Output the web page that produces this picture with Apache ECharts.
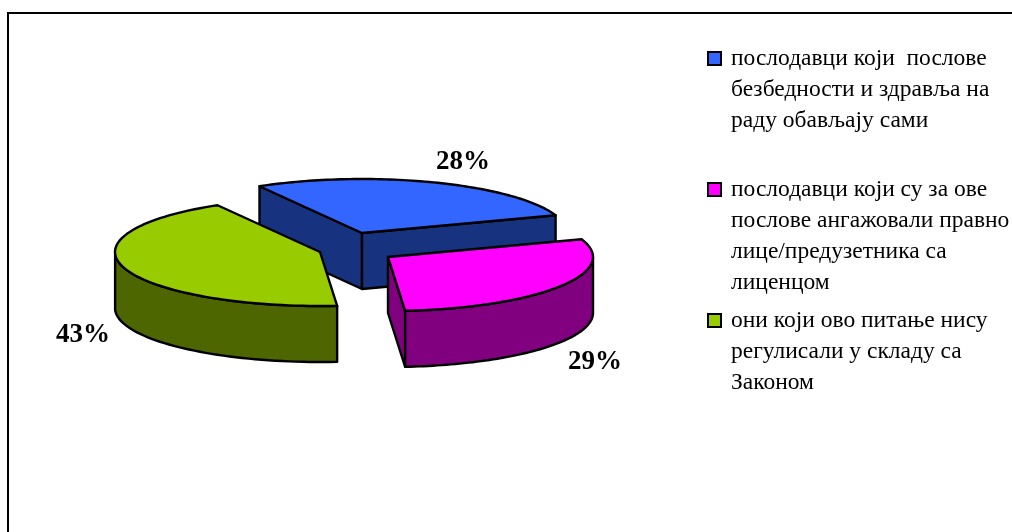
<!DOCTYPE html>
<html><head><meta charset="utf-8">
<style>html,body{margin:0;padding:0;background:#fff}#c{width:1012px;height:532px}</style>
<script src="https://cdn.jsdelivr.net/npm/echarts@6/dist/echarts.min.js"></script>
</head><body><div id="c"></div>
<script>
const categories = [
  'послодавци који  послове\nбезбедности и здравља на\nраду обављају сами',
  'послодавци који су за ове\nпослове ангажовали правно\nлице/предузетника са\nлиценцом',
  'они који ово питање нису\nрегулисали у складу са\nЗаконом'
];
const shares = [28, 29, 43];
const topColors = ['#3366FF', '#FF00FF', '#99CC00'];
const sideColors = ['#17337F', '#800080', '#4D6600'];

// Projection of the tilted pie
const CX = 356, CY = 248, RX = 205, RY = 54, DEPTH = 56, START_DEG = 120;
const pull = [[6, -15], [32, 9], [-36, 4]];
const labelShift = [[101, -71], [207, 105], [-237, 83]];
const LINE = 31;

const total = shares.reduce((a, b) => a + b, 0);
function renderSlice(idx) {
  return function (params, api) {
    const share = api.value(0);
    const before = shares.slice(0, idx).reduce((a, b) => a + b, 0);
    const a0 = (START_DEG - before / total * 360) * Math.PI / 180;
    const a1 = a0 - share / total * 2 * Math.PI;
    const ax = CX + pull[idx][0], ay = CY + pull[idx][1];
    const pt = (t, dz) => [ax + RX * Math.cos(t), ay - RY * Math.sin(t) + (dz || 0)];
    const stroke = { stroke: '#000', lineWidth: 2.4, lineJoin: 'round' };
    const children = [];
    const wall = (t) => children.push({
      type: 'polygon',
      shape: { points: [[ax, ay], pt(t), pt(t, DEPTH), [ax, ay + DEPTH]] },
      style: Object.assign({ fill: sideColors[idx] }, stroke)
    });
    if (Math.cos(a0) < 0) wall(a0);
    if (Math.cos(a1) > 0) wall(a1);
    // outer curved wall: the part facing the viewer
    const N = 80, arc = [];
    for (let i = 0; i <= N; i++) arc.push(a0 + (a1 - a0) * i / N);
    const front = arc.filter(t => Math.sin(t) <= 0);
    if (front.length > 1) {
      children.push({
        type: 'polygon',
        shape: { points: front.map(t => pt(t)).concat(front.slice().reverse().map(t => pt(t, DEPTH))) },
        style: Object.assign({ fill: sideColors[idx] }, stroke)
      });
    }
    children.push({
      type: 'polygon',
      shape: { points: [[ax, ay]].concat(arc.map(t => pt(t))) },
      style: Object.assign({ fill: topColors[idx] }, stroke)
    });
    children.push({
      type: 'text',
      style: {
        text: share + '%', x: ax + labelShift[idx][0], y: ay + labelShift[idx][1],
        align: 'center', verticalAlign: 'middle', fill: '#000',
        font: 'bold 27px "Liberation Serif", serif'
      }
    });
    return { type: 'group', children };
  };
}

const chart = echarts.init(document.getElementById('c'), null, { renderer: 'canvas' });
chart.setOption({
  animation: false,
  backgroundColor: '#fff',
  legend: {
    orient: 'vertical', left: 702, top: -24, itemWidth: 13, itemHeight: 13, itemGap: -55,
    icon: 'rect', selectedMode: false,
    itemStyle: { borderColor: '#000', borderWidth: 2 },
    textStyle: { fontFamily: '"Liberation Serif", serif', fontSize: 23.5, lineHeight: LINE, color: '#000', padding: [0, 0, 0, 5] },
    // leading blank lines keep the first line level with the marker
    formatter: name => '\n'.repeat(name.split('\n').length - 1) + name,
    data: categories
  },
  graphic: [{
    type: 'polyline', silent: true,
    shape: { points: [[8, 532], [8, 13], [1012, 13]] },
    style: { stroke: '#000', lineWidth: 2, fill: null }
  }],
  series: categories.map((name, i) => ({
    type: 'custom', name, coordinateSystem: 'none', silent: true,
    itemStyle: { color: topColors[i] },
    data: [[shares[i]]],
    encode: { value: 0 },
    renderItem: renderSlice(i)
  }))
});
</script></body></html>
